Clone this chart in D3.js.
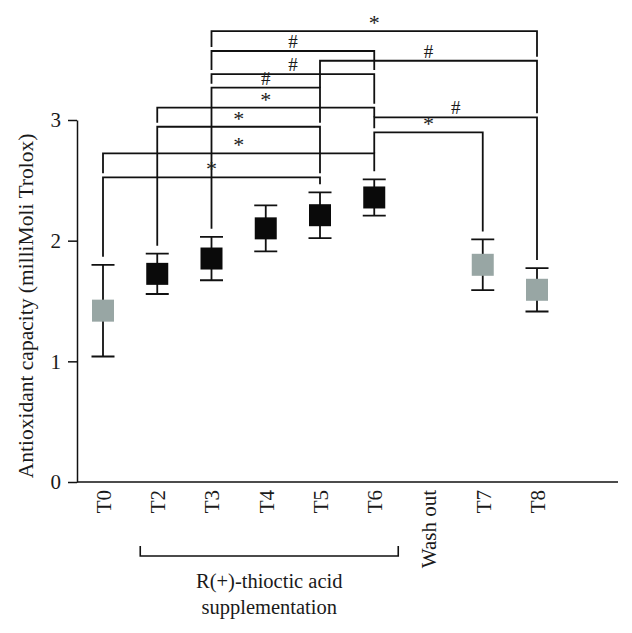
<!DOCTYPE html>
<html>
<head>
<meta charset="utf-8">
<script src="https://cdn.jsdelivr.net/npm/d3@7"></script>
<style>
  html, body { margin: 0; padding: 0; background: #fff; }
  svg { display: block; }
  text { font-family: "Liberation Serif", "Times New Roman", serif; fill: #1a1a1a; }
</style>
</head>
<body>
<svg id="chart" width="632" height="633"></svg>
<script>
// ---- data ----
const categories = ["T0", "T2", "T3", "T4", "T5", "T6", "Wash out", "T7", "T8"];
const timepoints = ["T0", "T2", "T3", "T4", "T5", "T6", "T7", "T8"];
const means      = [1.42, 1.725, 1.852, 2.102, 2.211, 2.358, 1.80, 1.593];
const errors     = [0.38, 0.167, 0.18, 0.19, 0.19, 0.15, 0.21, 0.18];
const supplemented = [false, true, true, true, true, true, false, false];
const yTicks = [0, 1, 2, 3];

const bracketFrom   = ["T3", "T3", "T5", "T3", "T3", "T2", "T6", "T2", "T6", "T0", "T0"];
const bracketTo     = ["T8", "T6", "T8", "T6", "T5", "T6", "T8", "T5", "T7", "T6", "T5"];
const bracketLevel  = [3.737, 3.572, 3.491, 3.381, 3.268, 3.102, 3.022, 2.944, 2.898, 2.724, 2.525];
const bracketSymbol = ["*", "#", "#", "#", "#", "*", "#", "*", "*", "*", "*"];

const yLabel = "Antioxidant capacity (milliMoli Trolox)";
const periodLabel = ["R(+)-thioctic acid", "supplementation"];

// ---- layout ----
const svg = d3.select("#chart");
const x = d3.scalePoint().domain(categories).range([103, 537]);
const y = d3.scaleLinear().domain([0, 3]).range([482, 120]);
const axisX0 = 77, axisXEnd = 618;
const ink = "#111";
const gray = "#98a6a4";

// y axis
const yAxis = svg.append("g")
  .attr("transform", `translate(${axisX0},0)`)
  .call(d3.axisLeft(y).tickValues(yTicks).tickFormat(d3.format("d")).tickSize(9).tickSizeOuter(0).tickPadding(7));
yAxis.select(".domain").attr("stroke", ink).attr("stroke-width", 1.5);
yAxis.selectAll(".tick line").attr("stroke", ink).attr("stroke-width", 1.5);
yAxis.selectAll(".tick text")
  .style("font-family", '"Liberation Serif", serif').style("font-size", "21px").attr("fill", "#1a1a1a");

// x axis line
svg.append("line")
  .attr("x1", axisX0).attr("x2", axisXEnd)
  .attr("y1", y(0)).attr("y2", y(0))
  .attr("stroke", ink).attr("stroke-width", 1.5);

// x labels (rotated)
svg.append("g").selectAll("text").data(categories).join("text")
  .attr("transform", d => `translate(${x(d) + 0.5},${y(0) + 8}) rotate(-90)`)
  .attr("text-anchor", "end")
  .attr("dy", "0.35em")
  .style("font-size", "21px")
  .text(d => d);

// y axis label
svg.append("text")
  .attr("transform", `translate(33,306) rotate(-90)`)
  .attr("text-anchor", "middle")
  .style("font-size", "21.5px")
  .text(yLabel);

// supplementation bracket
const bx1 = x("T2") - 17, bx2 = x("T6") + 24, by = 556;
svg.append("path")
  .attr("d", `M${bx1},${by - 10}V${by}H${bx2}V${by - 10}`)
  .attr("fill", "none").attr("stroke", ink).attr("stroke-width", 1.6);
svg.append("g").selectAll("text").data(periodLabel).join("text")
  .attr("x", (bx1 + bx2) / 2)
  .attr("y", (d, i) => 588 + i * 26)
  .attr("text-anchor", "middle")
  .style("font-size", "20.5px")
  .text(d => d);

// error bars + squares
const pts = timepoints.map((t, i) => ({ t, m: means[i], e: errors[i], on: supplemented[i] }));
const g = svg.append("g");
const capW = 23, sq = 22;
g.selectAll(".eb").data(pts).join("path")
  .attr("d", d => {
    const cx = x(d.t), yt = y(d.m + d.e), yb = y(d.m - d.e);
    return `M${cx},${yt}V${yb}M${cx - capW / 2},${yt}H${cx + capW / 2}M${cx - capW / 2},${yb}H${cx + capW / 2}`;
  })
  .attr("fill", "none").attr("stroke", ink).attr("stroke-width", 1.8);
g.selectAll("rect").data(pts).join("rect")
  .attr("x", d => x(d.t) - sq / 2)
  .attr("y", d => y(d.m) - sq / 2)
  .attr("width", sq).attr("height", sq)
  .attr("fill", d => d.on ? "#0a0a0a" : gray);

// significance brackets
const brackets = bracketFrom.map((f, i) => ({ from: f, to: bracketTo[i], level: bracketLevel[i], sym: bracketSymbol[i] }));
const topOf = {};
pts.forEach(p => topOf[p.t] = p.m + p.e);

function legEnd(b, cat, side) {
  let best = null, bestSide = null;
  brackets.forEach(o => {
    if (o === b || o.level >= b.level) return;
    let s = null;
    if (o.from === cat) s = "L";
    else if (o.to === cat) s = "R";
    if (s && (!best || o.level > best.level)) { best = o; bestSide = s; }
  });
  if (best) return y(best.level) - (bestSide === side ? 4 : 0);
  return y(topOf[cat]) - 8;
}

const bg = svg.append("g");
brackets.forEach(b => {
  const x1 = x(b.from), x2 = x(b.to), yy = y(b.level);
  const yl = legEnd(b, b.from, "L"), yr = legEnd(b, b.to, "R");
  bg.append("path")
    .attr("d", `M${x1},${yl}V${yy}H${x2}V${yr}`)
    .attr("fill", "none").attr("stroke", ink).attr("stroke-width", 1.8);
  bg.append("text")
    .attr("x", (x1 + x2) / 2)
    .attr("y", b.sym === "*" ? yy - 1 : yy - 3)
    .attr("text-anchor", "middle")
    .style("font-size", b.sym === "*" ? "22px" : "19px")
    .text(b.sym);
});
</script>
</body>
</html>
